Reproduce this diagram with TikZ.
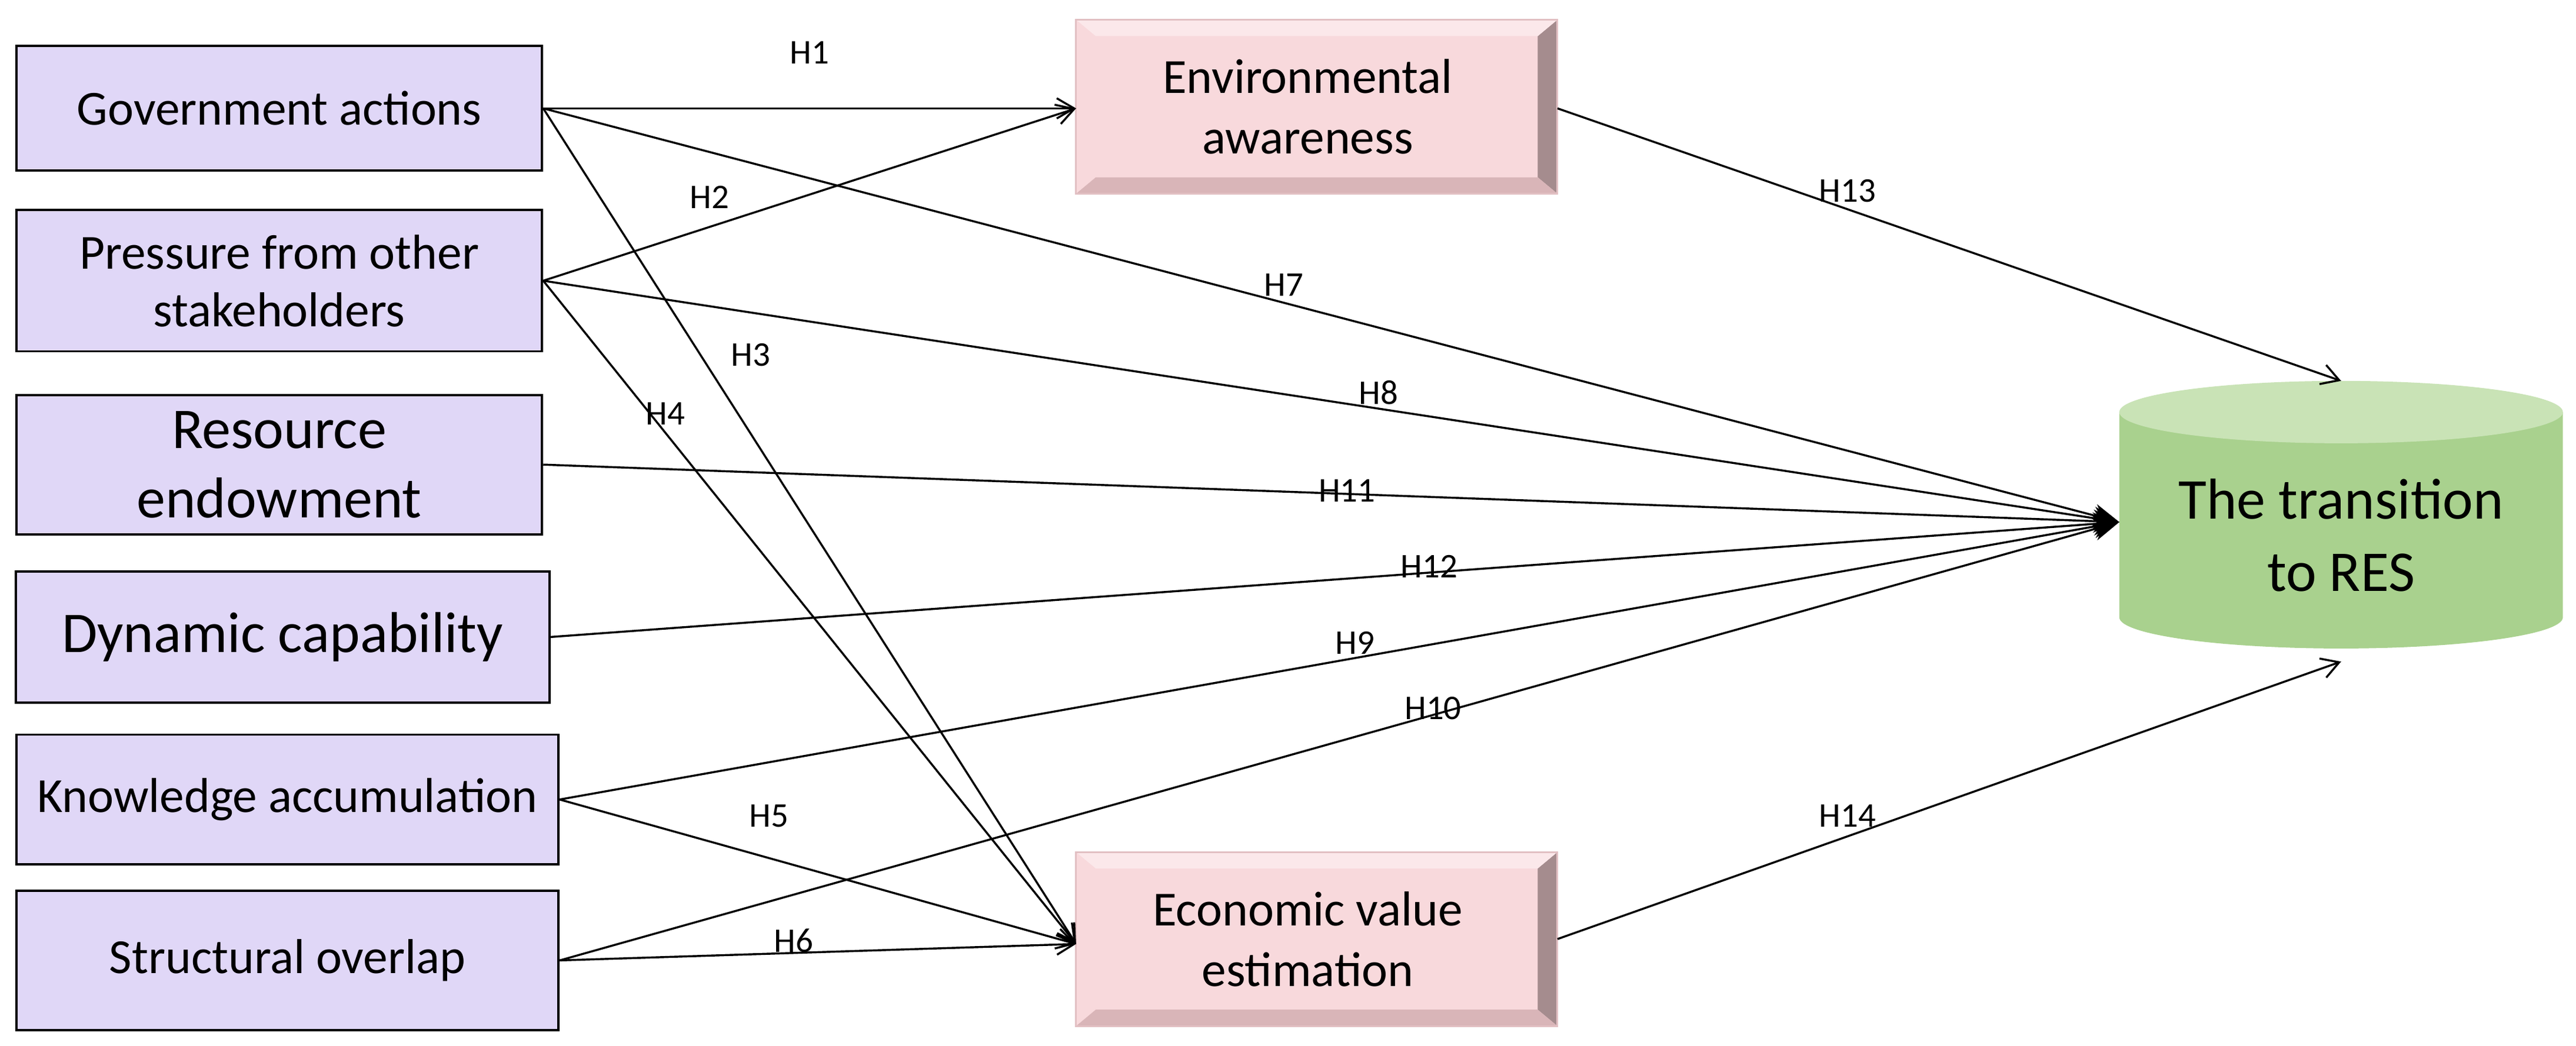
\documentclass[tikz,border=0pt]{standalone}
\usepackage{fontspec}
\setmainfont{Carlito}
\usetikzlibrary{arrows.meta,shapes.geometric}
\definecolor{lav}{HTML}{E0D7F7}
\definecolor{pinkf}{HTML}{F8D9DC}
\definecolor{pinkd}{HTML}{A58C8E}
\definecolor{pinkm}{HTML}{D9B5B8}
\definecolor{cylg}{HTML}{A9D18E}
\definecolor{cylt}{HTML}{C9E3B6}
\tikzset{
 lbox/.style={draw=black,fill=lav,line width=0.8pt,align=center,font=\fontsize{17}{20}\selectfont},
 ar/.style={-{Straight Barb[length=6pt,width=7pt]},line width=0.7pt},
 lab/.style={font=\fontsize{12}{14}\selectfont,inner sep=1pt},
}
\begin{document}
\begin{tikzpicture}[x=0.02cm,y=-0.02cm]
\useasboundingbox (0,0) rectangle (1568,637);
% left boxes
\node[lbox,minimum width=6.4cm,minimum height=1.52cm] (gov) at (170,66) {Government actions};
\node[lbox,minimum width=6.4cm,minimum height=1.72cm] (pre) at (170,171) {Pressure from other\\stakeholders};
\node[lbox,minimum width=6.4cm,minimum height=1.7cm,font=\fontsize{20}{24}\selectfont] (res) at (170,283) {Resource\\endowment};
\node[lbox,minimum width=6.5cm,minimum height=1.6cm,font=\fontsize{20}{24}\selectfont] (dyn) at (172,388) {Dynamic capability};
\node[lbox,minimum width=6.6cm,minimum height=1.58cm] (kno) at (175,487) {Knowledge accumulation};
\node[lbox,minimum width=6.6cm,minimum height=1.7cm] (str) at (175,585) {Structural overlap};
% beveled boxes
\foreach \n/\y/\t in {env/65/{Environmental\\awareness}, eco/572/{Economic value\\estimation}}{
 \fill[pinkf] (655,\y-53) rectangle (948,\y+53);
 \fill[pinkd] (948,\y-53) -- (948,\y+53) -- (936,\y+43) -- (936,\y-43) -- cycle;
 \fill[pinkm] (655,\y+53) -- (948,\y+53) -- (936,\y+43) -- (667,\y+43) -- cycle;
 \fill[pinkf!60!white] (655,\y-53) -- (948,\y-53) -- (936,\y-43) -- (667,\y-43) -- cycle;
 \draw[pinkm!70!pinkf,line width=0.6pt] (655,\y-53) rectangle (948,\y+53);
 \node[align=center,font=\fontsize{17}{21}\selectfont] (\n) at (796,\y) {\t};
}
\coordinate (envw) at (655,66);
\coordinate (envE) at (948,66);
\coordinate (ecow) at (655,575);
\coordinate (ecoE) at (948,572);
% cylinder
\fill[cylg] (1290,251) -- (1290,376) arc[start angle=180,end angle=0,x radius=135,y radius=19] -- (1560,251) -- cycle;
\fill[cylt] (1425,251) ellipse[x radius=135,y radius=19];
\node[align=center,font=\fontsize{20}{25}\selectfont] (res2) at (1425,326) {The transition\\to RES};
\coordinate (t) at (1290,318);
\coordinate (ttop) at (1425,232);
\coordinate (tbot) at (1425,403);
% connectors
\draw[ar] (gov.east) -- (envw) node[lab,pos=0.5,above=14pt] {H1};
\draw[ar] (pre.east) -- (envw) coordinate[pos=0.3] (h2);
\node[lab] at (432,120) {H2};
\draw[ar] (gov.east) -- (ecow);
\node[lab] at (457,216) {H3};
\draw[ar] (pre.east) -- (ecow);
\node[lab] at (405,252) {H4};
\draw[ar] (kno.east) -- (ecow);
\node[lab] at (468,497) {H5};
\draw[ar] (str.east) -- (ecow);
\node[lab] at (483,573) {H6};
\tikzset{ar2/.style={-{Stealth[length=9pt,width=8pt]},line width=0.7pt}}
\draw[ar2] (gov.east) -- (t) node[lab,pos=0.47,above=1pt] {H7};
\draw[ar2] (pre.east) -- (t) node[lab,pos=0.53,above=0pt] {H8};
\draw[ar2] (res.east) -- (t) node[lab,pos=0.51,above=-4pt] {H11};
\draw[ar2] (dyn.east) -- (t) node[lab,pos=0.56,above=-3pt] {H12};
\draw[ar2] (kno.east) -- (t) node[lab,pos=0.51,above=0pt] {H9};
\draw[ar2] (str.east) -- (t) node[lab,pos=0.56,above=-3pt] {H10};
\draw[ar] (envE) -- (ttop) node[lab,pos=0.37,above=1pt] {H13};
\draw[ar] (ecoE) -- (tbot) node[lab,pos=0.37,above=2pt] {H14};
\end{tikzpicture}
\end{document}
